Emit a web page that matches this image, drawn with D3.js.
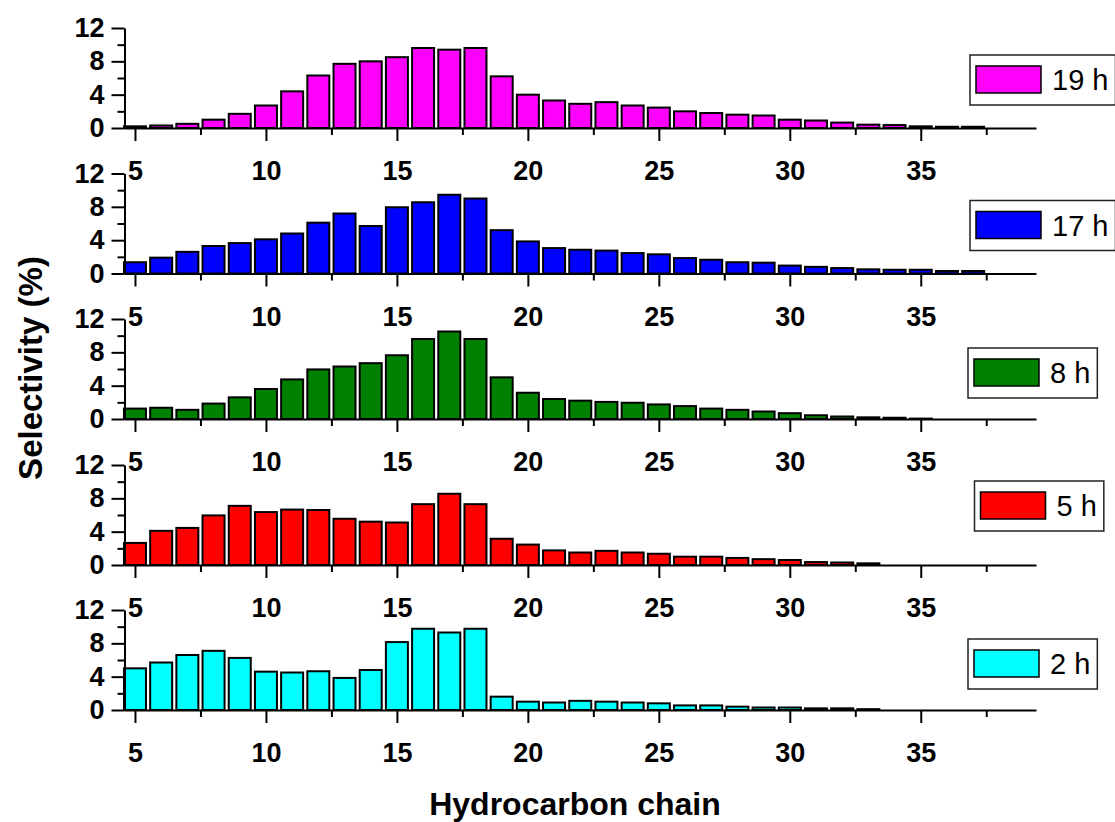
<!DOCTYPE html>
<html>
<head>
<meta charset="utf-8">
<script src="https://cdn.jsdelivr.net/npm/d3@7"></script>
<style>
  body { margin: 0; background: #fff; }
  svg { font-family: "Liberation Sans", Arial, sans-serif; }
  .tick text { font-weight: bold; font-size: 27px; fill: #000; }
  .domain, .tick line { stroke: #000; stroke-width: 2px; }
</style>
</head>
<body>
<div id="chart"></div>
<script>
// carbon numbers C5..C37
var carbons = d3.range(5, 38);

// selectivity (%) per carbon number
var sel19h = [0.2, 0.3, 0.5, 1.0, 1.7, 2.7, 4.4, 6.3, 7.7, 8.0, 8.5, 9.6, 9.4, 9.6, 6.2, 4.0, 3.3, 2.9, 3.1, 2.7, 2.45, 2.0, 1.8, 1.6, 1.5, 1.0, 0.9, 0.65, 0.4, 0.35, 0.2, 0.15, 0.15];
var sel17h = [1.35, 1.9, 2.6, 3.3, 3.65, 4.1, 4.8, 6.1, 7.2, 5.7, 7.95, 8.55, 9.45, 9.0, 5.2, 3.85, 3.05, 2.85, 2.75, 2.45, 2.3, 1.85, 1.65, 1.35, 1.3, 0.95, 0.8, 0.65, 0.5, 0.45, 0.45, 0.3, 0.3];
var sel8h  = [1.25, 1.35, 1.1, 1.85, 2.6, 3.6, 4.75, 5.95, 6.3, 6.7, 7.65, 9.6, 10.5, 9.6, 5.0, 3.15, 2.4, 2.2, 2.05, 1.95, 1.75, 1.55, 1.25, 1.1, 0.9, 0.7, 0.45, 0.3, 0.2, 0.15, 0.05, 0, 0];
var sel5h  = [2.65, 4.1, 4.45, 5.95, 7.1, 6.35, 6.65, 6.6, 5.55, 5.2, 5.1, 7.3, 8.55, 7.3, 3.15, 2.45, 1.75, 1.5, 1.7, 1.5, 1.35, 1.0, 1.0, 0.85, 0.7, 0.6, 0.35, 0.3, 0.2, 0, 0, 0, 0];
var sel2h  = [5.0, 5.7, 6.6, 7.1, 6.25, 4.6, 4.5, 4.65, 3.85, 4.8, 8.15, 9.75, 9.3, 9.75, 1.6, 1.0, 0.9, 1.1, 1.0, 0.9, 0.8, 0.55, 0.55, 0.4, 0.3, 0.3, 0.2, 0.2, 0.1, 0, 0, 0, 0];

var seriesNames = ["19 h", "17 h", "8 h", "5 h", "2 h"];
var seriesValues = [sel19h, sel17h, sel8h, sel5h, sel2h];
var seriesColors = ["#ff00ff", "#0000ff", "#008000", "#ff0000", "#00ffff"];

var xMajorTicks = [5, 10, 15, 20, 25, 30, 35];
var xMinorTicks = [7.5, 12.5, 17.5, 22.5, 27.5, 32.5, 37.5];
var yMajorTicks = [0, 4, 8, 12];
var yMinorTicks = [2, 6, 10];

// layout
var W = 1115, H = 822;
var left = 124.5, right = 1036;
var panelZero = [128, 273.5, 419, 565, 710];
var panelH = 100;
var legendTop = [55, 200.5, 348, 481, 639];
var legendLeft = [970, 970, 968, 974.5, 968];

var svg = d3.select("#chart").append("svg")
    .attr("width", W).attr("height", H);

var x = d3.scaleLinear().domain([4.6, 39.4]).range([left, right]);
var barW = (x(1) - x(0)) * 0.84;

seriesValues.forEach(function(vals, i) {
  var y0 = panelZero[i];
  var y = d3.scaleLinear().domain([0, 12]).range([y0, y0 - panelH]);
  var g = svg.append("g");

  // bars
  g.selectAll("rect.bar").data(carbons).enter().append("rect")
      .attr("class", "bar")
      .attr("x", function(c) { return x(c) - barW / 2; })
      .attr("y", function(c, j) { return y(vals[j]); })
      .attr("width", barW)
      .attr("height", function(c, j) { return y(0) - y(vals[j]); })
      .attr("fill", seriesColors[i])
      .attr("stroke", "#000")
      .attr("stroke-width", 2);

  // x axis: major ticks with labels, minor ticks without
  g.append("g").attr("transform", "translate(0," + y0 + ")")
      .call(d3.axisBottom(x).tickValues(xMajorTicks).tickSize(13).tickPadding(20).tickSizeOuter(0));
  g.append("g").attr("transform", "translate(0," + y0 + ")")
      .call(d3.axisBottom(x).tickValues(xMinorTicks).tickSize(7).tickFormat("").tickSizeOuter(0))
      .select(".domain").remove();

  // y axis
  g.append("g").attr("transform", "translate(" + left + ",0)")
      .call(d3.axisLeft(y).tickValues(yMajorTicks).tickSize(13).tickPadding(7).tickSizeOuter(0));
  g.append("g").attr("transform", "translate(" + left + ",0)")
      .call(d3.axisLeft(y).tickValues(yMinorTicks).tickSize(7).tickFormat("").tickSizeOuter(0))
      .select(".domain").remove();

  // legend
  var lg = svg.append("g").attr("transform", "translate(" + legendLeft[i] + "," + legendTop[i] + ")");
  var txt = lg.append("text")
      .attr("x", 82).attr("y", 25)
      .attr("dy", "0.36em")
      .style("font-size", "29px")
      .text(seriesNames[i]);
  var tw = txt.node().getComputedTextLength();
  lg.insert("rect", "text")
      .attr("width", 82 + tw + 7).attr("height", 50)
      .attr("fill", "#fff").attr("stroke", "#222").attr("stroke-width", 1.5);
  lg.append("rect")
      .attr("x", 6).attr("y", 11).attr("width", 65).attr("height", 27)
      .attr("fill", seriesColors[i]).attr("stroke", "#000").attr("stroke-width", 1.5);
});

// axis titles
svg.append("text")
    .attr("transform", "translate(30,368) rotate(-90)")
    .attr("text-anchor", "middle")
    .attr("dy", "0.35em")
    .style("font-size", "33px").style("font-weight", "bold")
    .text("Selectivity (%)");

svg.append("text")
    .attr("x", 575).attr("y", 815)
    .attr("text-anchor", "middle")
    .style("font-size", "32px").style("font-weight", "bold")
    .text("Hydrocarbon chain");
</script>
</body>
</html>
